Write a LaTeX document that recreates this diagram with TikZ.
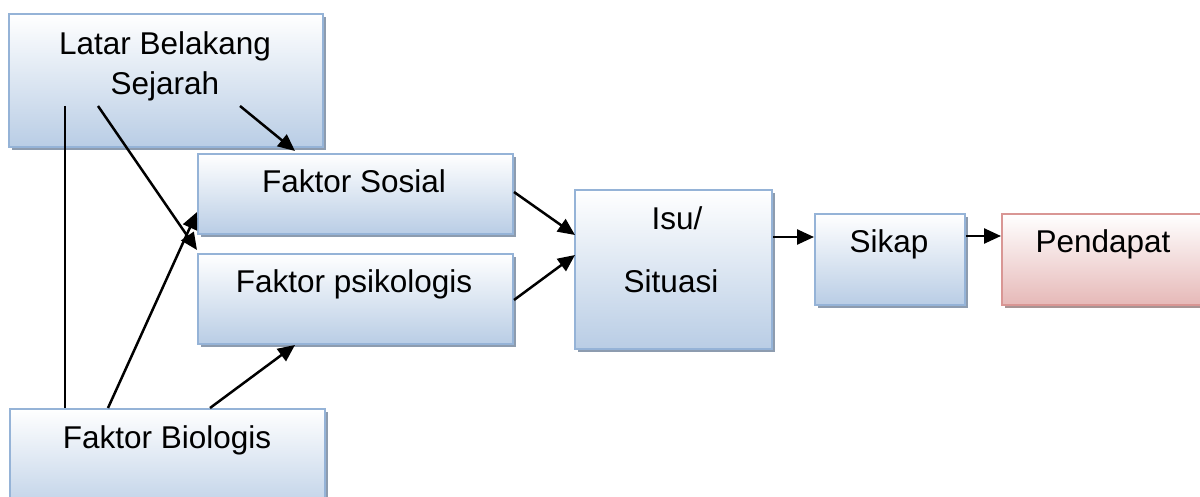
\documentclass[tikz,border=0pt]{standalone}
\usepackage{fontspec}
\setmainfont{Liberation Sans}
\usetikzlibrary{arrows.meta,shadows,calc}
\definecolor{bfill}{HTML}{B9CDE5}
\definecolor{bdraw}{HTML}{95B3D7}
\definecolor{bshadow}{HTML}{8D9CAF}
\definecolor{rfill}{HTML}{E6B9B8}
\definecolor{rdraw}{HTML}{D99694}
\definecolor{rshadow}{HTML}{A89494}
\tikzset{
  bluebox/.style={draw=bdraw, line width=2pt, top color=white, bottom color=bfill,
    drop shadow={shadow xshift=3pt, shadow yshift=-3pt, fill=bshadow, opacity=1},
    inner sep=0pt, anchor=north west},
  redbox/.style={draw=rdraw, line width=2pt, top color=white, bottom color=rfill,
    drop shadow={shadow xshift=3pt, shadow yshift=-3pt, fill=rshadow, opacity=1},
    inner sep=0pt, anchor=north west},
  lbl/.style={anchor=base, inner sep=0pt, font=\fontsize{31.5}{38}\selectfont},
  conn/.style={line width=2.5pt, black},
  arr/.style={conn, -{Triangle[length=17pt,width=15pt]}}
}
\begin{document}
\begin{tikzpicture}[x=1pt,y=-1pt]
\useasboundingbox (0,0) rectangle (1200,497);
\clip (0,0) rectangle (1200,497);
% boxes
\node[bluebox, minimum width=314pt, minimum height=133pt] (latar) at (8,13) {};
\node[bluebox, minimum width=315pt, minimum height=80pt] (sosial) at (197,153) {};
\node[bluebox, minimum width=315pt, minimum height=90pt] (psiko) at (197,253) {};
\node[bluebox, minimum width=197pt, minimum height=159pt] (isu) at (574,189) {};
\node[bluebox, minimum width=150pt, minimum height=91pt] (sikap) at (814,213) {};
\node[redbox, minimum width=210pt, minimum height=91pt] (pendapat) at (1001,213) {};
\node[bluebox, minimum width=315pt, minimum height=110pt] (biologis) at (9,408) {};
% texts
\node[lbl] (t1) at (165,55) {Latar Belakang};
\node[lbl] (t2) at (165,95) {Sejarah};
\node[lbl] (t3) at (354,193) {Faktor Sosial};
\node[lbl] (t4) at (354,293) {Faktor psikologis};
\node[lbl] (t5) at (677,230) {Isu/};
\node[lbl] (t6) at (671,292) {Situasi};
\node[lbl] (t7) at (889,253) {Sikap};
\node[lbl] (t8) at (1103,253) {Pendapat};
\node[lbl] (t9) at (167,448) {Faktor Biologis};
% connectors
\coordinate (la) at (65,106);
\coordinate (lb) at (98,106);
\coordinate (lc) at (240,106);
\draw[conn] (la) -- (65,408);
\draw[arr] (lb) -- (197,250);
\draw[arr] ($(biologis.north west)+(99,0)$) -- ($(sosial.west)+(0,18)$);
\draw[arr] ($(biologis.north west)+(201,0)$) -- (295,345);
\draw[arr] (lc) -- ($(sosial.north west)+(98,-2)$);
\draw[arr] ($(sosial.north east)+(0,39)$) -- ($(isu.north west)+(1,46)$);
\draw[arr] ($(psiko.north east)+(0,47)$) -- ($(isu.north west)+(1,66)$);
\draw[arr] (isu.north east |- 0,237) -- (sikap.north west |- 0,237);
\draw[arr] (sikap.north east |- 0,236) -- (pendapat.north west |- 0,236);
\end{tikzpicture}
\end{document}
